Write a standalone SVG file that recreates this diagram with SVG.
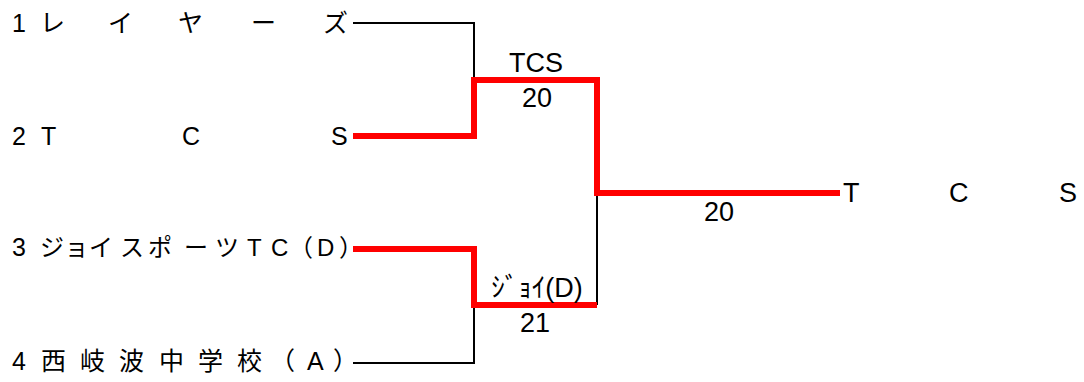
<svg xmlns="http://www.w3.org/2000/svg" width="1084" height="382" viewBox="0 0 1084 382">
<style>
text{font-family:"Liberation Sans","Noto Sans CJK JP",sans-serif;font-size:25px;fill:#000}
.m{font-size:24px}
.s{font-size:27px;text-anchor:middle}
.c{font-size:27px}
.b{fill:none;stroke:#000;stroke-width:2}
.r{fill:none;stroke:#f00;stroke-width:6}
</style>
<rect width="1084" height="382" fill="#fff"/>
<g id="connectors">
<polyline class="b" points="353,23 474,23 474,80"/>
<polyline class="b" points="353,363 474,363 474,305"/>
<polyline class="b" points="597,193 597,305"/>
<polyline class="r" points="353,136 474,136 474,80 597,80 597,193 840,193"/>
<polyline class="r" points="353,249 474,249 474,305 597,305"/>
</g>
<g id="team1"><text y="32"><tspan x="12">1</tspan><tspan x="40">レ</tspan><tspan x="108">イ</tspan><tspan x="178">ヤ</tspan><tspan x="251">ー</tspan><tspan x="323">ズ</tspan></text></g>
<g id="team2"><text y="145"><tspan x="12">2</tspan><tspan x="41">T</tspan><tspan x="182">C</tspan><tspan x="331">S</tspan></text></g>
<g id="team3"><text y="256"><tspan x="12">3</tspan></text><text class="m" y="256"><tspan x="40">ジ</tspan><tspan x="64.5">ョ</tspan><tspan x="89">イ</tspan><tspan x="120">ス</tspan><tspan x="148">ポ</tspan><tspan x="184">ー</tspan><tspan x="215">ツ</tspan><tspan x="247">T</tspan><tspan x="271">C</tspan><tspan x="289">（</tspan><tspan x="317">D</tspan><tspan x="339">）</tspan></text></g>
<g id="team4"><text y="370"><tspan x="12">4</tspan><tspan x="41">西</tspan><tspan x="80">岐</tspan><tspan x="119">波</tspan><tspan x="159">中</tspan><tspan x="198">学</tspan><tspan x="237">校</tspan><tspan x="270">（</tspan><tspan x="307">A</tspan><tspan x="333">）</tspan></text></g>
<g id="match1"><text class="s" x="536" y="72">TCS</text><text class="s" x="537" y="107">20</text></g>
<g id="match2"><text class="s" x="537" y="297">ｼﾞｮｲ(D)</text><text class="s" x="535" y="332">21</text></g>
<g id="final"><text class="s" x="719" y="221">20</text></g>
<g id="champion"><text class="c" y="202"><tspan x="843">T</tspan><tspan x="949">C</tspan><tspan x="1059">S</tspan></text></g>
</svg>
